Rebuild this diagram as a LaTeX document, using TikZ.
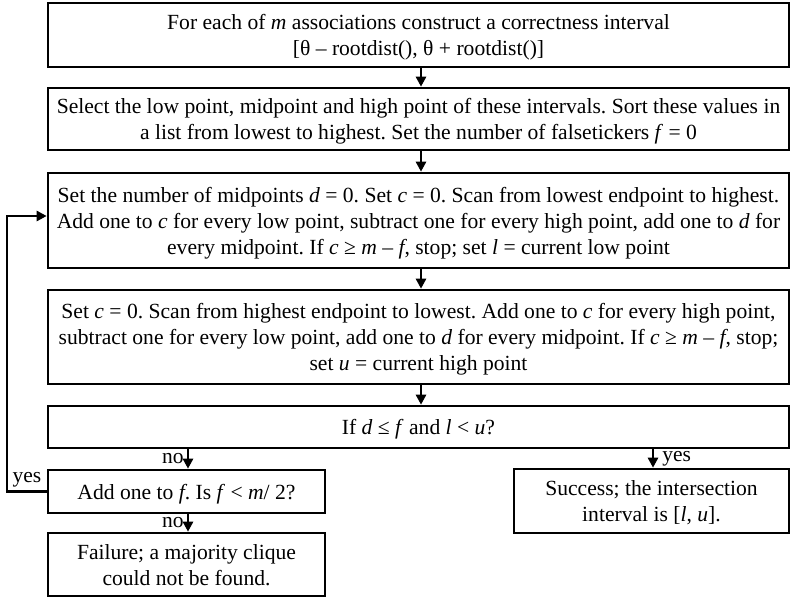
\documentclass[tikz,border=0pt]{standalone}
\usepackage{fontspec}
\setmainfont{Liberation Serif}
\usetikzlibrary{arrows.meta}
\tikzset{
  box/.style={draw, line width=2.6pt, align=center, inner sep=0pt, text depth=-3pt, font=\fontsize{21.6}{26}\selectfont},
  flow/.style={line width=2.6pt, -{Stealth[length=10pt,width=10pt,inset=0pt]}},
  lbl/.style={font=\fontsize{21.5}{24}\selectfont, inner sep=0pt}
}
\begin{document}
\frenchspacing
\begin{tikzpicture}[x=1pt,y=-1pt]
\useasboundingbox (0,0) rectangle (791,598);
\node[box, minimum width=741pt, minimum height=64pt] (b1) at (418.5,35)
  {For each of \textit{m} associations construct a correctness interval\\
   \relax[θ – rootdist(), θ + rootdist()]};
\node[box, minimum width=741pt, minimum height=62pt] (b2) at (418.5,119)
  {Select the low point, midpoint and high point of these intervals. Sort these values in\\
   a list from lowest to highest. Set the number of falsetickers \textit{f} = 0};
\node[box, minimum width=741pt, minimum height=95pt] (b3) at (418.5,220.5)
  {Set the number of midpoints \textit{d} = 0. Set \textit{c} = 0. Scan from lowest endpoint to highest.\\
   Add one to \textit{c} for every low point, subtract one for every high point, add one to \textit{d} for\\
   every midpoint. If \textit{c} ≥ \textit{m} – \textit{f}, stop; set \textit{l} = current low point};
\node[box, minimum width=741pt, minimum height=94pt] (b4) at (418.5,337)
  {Set \textit{c} = 0. Scan from highest endpoint to lowest. Add one to \textit{c} for every high point,\\
   subtract one for every low point, add one to \textit{d} for every midpoint. If \textit{c} ≥ \textit{m} – \textit{f}, stop;\\
   set \textit{u} = current high point};
\node[box, minimum width=741pt, minimum height=42pt] (b5) at (418.5,427)
  {If \textit{d} ≤ \textit{f} and \textit{l} < \textit{u}?};
\node[box, minimum width=277pt, minimum height=43pt] (b6) at (186.5,491.5)
  {Add one to \textit{f}. Is \textit{f} < \textit{m}/ 2?};
\node[box, minimum width=277pt, minimum height=63pt] (b7) at (186.5,564.5)
  {Failure; a majority clique\\ could not be found.};
\node[box, minimum width=275pt, minimum height=64pt] (b8) at (651.5,501)
  {Success; the intersection\\ interval is [\textit{l}, \textit{u}].};
\draw[flow] (b1.south -| 421,0) -- (b2.north -| 421,0);
\draw[flow] (b2.south -| 421,0) -- (b3.north -| 421,0);
\draw[flow] (b3.south -| 421,0) -- (b4.north -| 421,0);
\draw[flow] (b4.south -| 421,0) -- (b5.north -| 421,0);
\draw[flow] (b5.south -| 188,0) -- node[lbl, left=3pt] {no} (b6.north -| 188,0);
\draw[flow] (b6.south -| 188,0) -- node[lbl, left=3pt] {no} (b7.north -| 188,0);
\draw[flow] (b5.south -| 653,0) -- node[lbl, right=8pt] {yes} (b8.north -| 653,0);
\coordinate (c1) at (7,491.5);
\coordinate (c2) at (7,216);
\draw[flow] (b6.west) -- node[lbl, above=3pt, pos=0.5] {yes} (c1) -- (c2) -- (b3.west |- c2);
\end{tikzpicture}
\end{document}
